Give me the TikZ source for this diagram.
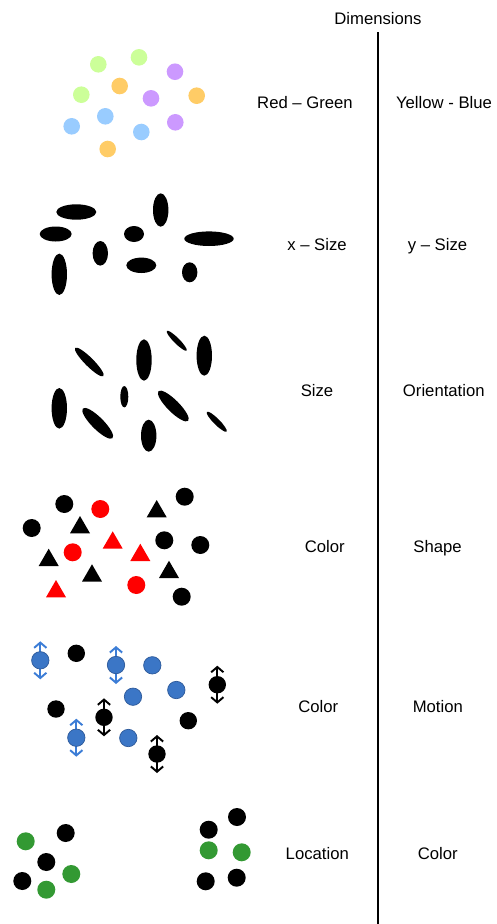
\documentclass[tikz,border=0pt]{standalone}
\usepackage{fontspec}
\setmainfont{Liberation Sans}
\usetikzlibrary{arrows.meta}
\definecolor{paleGreen}{HTML}{CCFF99}
\definecolor{paleOrange}{HTML}{FFCC66}
\definecolor{palePurple}{HTML}{CC99FF}
\definecolor{paleBlue}{HTML}{99CCFF}
\definecolor{motionBlue}{HTML}{3B76C6}
\definecolor{motionEdge}{HTML}{2E5A9A}
\definecolor{arrowBlue}{HTML}{3C7DD6}
\definecolor{locGreen}{HTML}{339933}

\begin{document}
\begin{tikzpicture}[x=0.02cm, y=-0.02cm, >={Straight Barb[length=3pt,width=7pt]},
    lbl/.style={anchor=base, font=\fontsize{9.5}{11}\selectfont}]
    \useasboundingbox (0,0) rectangle (497,924);
    % labels
    \node[lbl] (dims) at (378,24) {Dimensions};
    \node[lbl] (rg) at (305,108.3) {Red -- Green};
    \node[lbl] (yb) at (444,108.3) {Yellow - Blue};
    \node[lbl] (xs) at (317,250) {x -- Size};
    \node[lbl] (ys) at (437.5,250) {y -- Size};
    \node[lbl] (sz) at (317,396.7) {Size};
    \node[lbl] (ori) at (443.8,396.7) {Orientation};
    \node[lbl] (colA) at (324.7,552.7) {Color};
    \node[lbl] (shp) at (437.5,552.7) {Shape};
    \node[lbl] (colB) at (318.3,712.7) {Color};
    \node[lbl] (mot) at (437.8,712.7) {Motion};
    \node[lbl] (loc) at (317.3,859) {Location};
    \node[lbl] (colC) at (437.8,859) {Color};
    \coordinate (divTop) at (378,32);
    \coordinate (divBot) at (378,924);
    \draw[line width=1.1pt] (divTop) -- (divBot);
    % row 1: colours
    \foreach \x/\y in {98.3/64.3, 139/57.3, 81.3/94.7}
        \fill[paleGreen] (\x,\y) circle (8.3);
    \foreach \x/\y in {119.7/86, 196.7/95.7, 107.7/149}
        \fill[paleOrange] (\x,\y) circle (8.3);
    \foreach \x/\y in {175/71.7, 151/98.3, 175.3/122.3}
        \fill[palePurple] (\x,\y) circle (8.3);
    \foreach \x/\y in {105.3/116.3, 71.7/126.3, 141.3/132}
        \fill[paleBlue] (\x,\y) circle (8.3);
    % row 2: x and y size
    \foreach \x/\y/\a/\b in {76.3/212/20/7.7, 55.7/234/16/7.5, 160.7/210/7.7/16.7,
        134/234/10/8, 209/238.7/24.7/7.3, 100.3/253.3/7.7/12.3,
        59.3/274.3/7.7/20.7, 141.3/265.3/15/7.7, 189.7/272.3/7.7/10}
        \fill (\x,\y) ellipse [x radius=\a, y radius=\b];
    % row 3: size and orientation
    \foreach \x/\y/\a/\b in {144/360/7.7/20.7, 204.3/355.7/7.7/20, 59.3/408.3/7.7/20.3,
        124.3/396.7/4/10.7, 148.7/435.7/7.7/16}
        \fill (\x,\y) ellipse [x radius=\a, y radius=\b];
    \foreach \x/\y/\a/\b in {89.3/362/20/4.3, 176.7/340.7/14/2.8, 97.7/423.3/21/6,
        173.3/406/21/6, 216.7/421.7/14/3}
        \fill[rotate around={-45:(\x,\y)}] (\x,\y) ellipse [x radius=\a, y radius=\b];
    % row 4: colour and shape
    \foreach \x/\y in {64.3/504, 184.7/496.7, 31.7/528, 164.3/540.3, 200.3/545, 181.7/596.7}
        \fill (\x,\y) circle (9);
    \foreach \x/\y in {100.3/509, 72.7/552.3, 136.3/585}
        \fill[red] (\x,\y) circle (9);
    \foreach \x/\y in {156.7/500, 80/516, 48.7/548.7, 92/564.3, 169/560.7}
        \fill (\x,\y) -- ++(-10,17.3) -- ++(20,0) -- cycle;
    \foreach \x/\y in {112.7/531.3, 140.3/543.7, 56/580}
        \fill[red] (\x,\y) -- ++(-10,17.3) -- ++(20,0) -- cycle;
    % row 5: colour and motion
    \foreach \x/\y in {40.3/660.3, 116/665, 76.3/737.7}
        \draw[<->, arrowBlue, line width=1.1pt] (\x,\y-19) -- (\x,\y+19);
    \foreach \x/\y in {217.3/684.7, 104/717.3, 157/754}
        \draw[<->, line width=1.1pt] (\x,\y-19) -- (\x,\y+19);
    \foreach \x/\y in {40.3/660.3, 116/665, 152.3/665.3, 133/696.7, 176.3/690,
        76.3/737.7, 128.3/738}
        \filldraw[fill=motionBlue, draw=motionEdge, line width=0.4pt] (\x,\y) circle (8.7);
    \foreach \x/\y in {76.3/653.3, 217.3/684.7, 56/709, 104/717.3, 188.3/720.7, 157/754}
        \fill (\x,\y) circle (8.7);
    % row 6: location and colour
    \foreach \x/\y in {65.7/833, 46.3/862, 22.3/881, 208.7/829.7, 237/817,
        205.7/881.3, 236.7/877.7}
        \fill (\x,\y) circle (9);
    \foreach \x/\y in {25.7/841.3, 71.3/874, 46.3/889.7, 208.7/850.3, 241.7/852.3}
        \fill[locGreen] (\x,\y) circle (9);
\end{tikzpicture}
\end{document}
